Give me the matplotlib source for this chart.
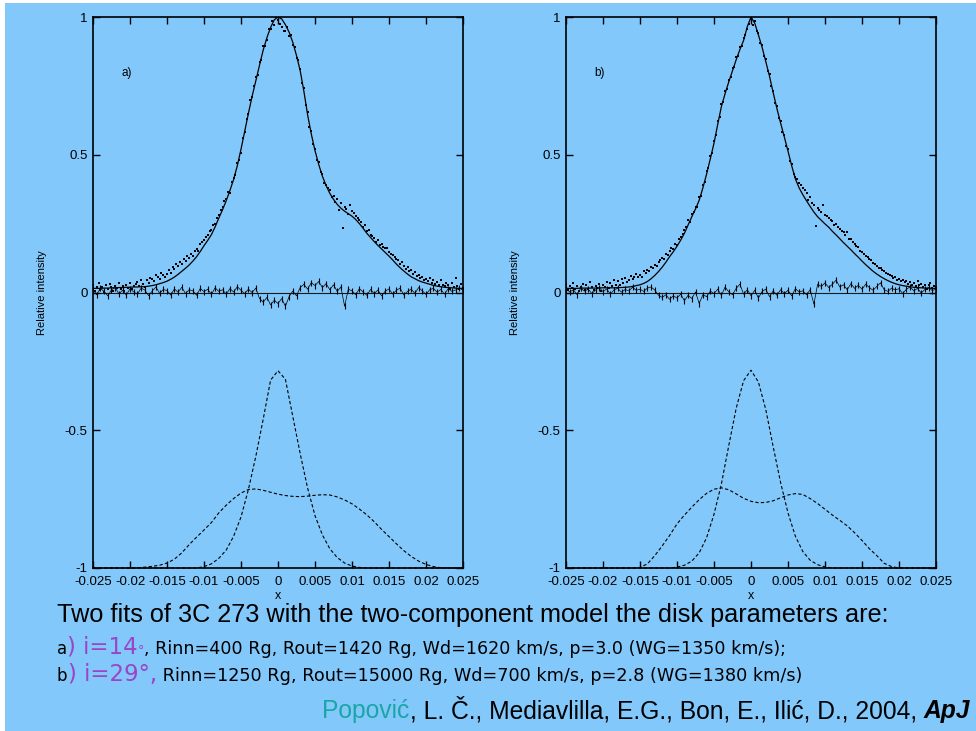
import numpy as np
import matplotlib
matplotlib.use('Agg')
import matplotlib.pyplot as plt
from matplotlib.patches import Rectangle

# wavelength grids (relative shift x)
x_obs = np.linspace(-0.025, 0.025, 201)   # observed points, step 0.00025
x_fit = np.linspace(-0.025, 0.025, 101)   # fit and residuals, step 0.0005
x_comp = np.linspace(-0.025, 0.025, 51)   # components, step 0.001

# panel a) - total fit
fit_a = [0.015, 0.015, 0.015, 0.016, 0.016, 0.017, 0.017, 0.018, 0.018, 0.019,
         0.019, 0.020, 0.020, 0.021, 0.021, 0.023, 0.025, 0.028, 0.032, 0.036,
         0.041, 0.048, 0.056, 0.066, 0.077, 0.088, 0.100, 0.114, 0.130, 0.149,
         0.170, 0.189, 0.210, 0.238, 0.270, 0.300, 0.333, 0.370, 0.410, 0.460,
         0.520, 0.585, 0.650, 0.712, 0.768, 0.825, 0.880, 0.925, 0.962, 0.990,
         1.000, 0.993, 0.972, 0.945, 0.908, 0.860, 0.805, 0.730, 0.645, 0.575,
         0.515, 0.465, 0.422, 0.388, 0.360, 0.338, 0.320, 0.306, 0.295, 0.286,
         0.277, 0.265, 0.250, 0.233, 0.215, 0.200, 0.185, 0.171, 0.158, 0.145,
         0.132, 0.118, 0.103, 0.090, 0.078, 0.067, 0.057, 0.050, 0.043, 0.038,
         0.034, 0.030, 0.026, 0.023, 0.021, 0.019, 0.018, 0.017, 0.016, 0.015,
         0.015]

# panel a) - observed profile
obs_a = [0.028, 0.004, 0.021, 0.033, 0.010, 0.019, 0.002, 0.026,
         0.012, 0.030, 0.020, 0.006, 0.024, 0.015, 0.034, 0.011,
         0.022, 0.005, 0.027, 0.018, 0.036, 0.013, 0.024, 0.031,
         0.038, 0.025, 0.044, 0.030, 0.021, 0.047, 0.036, 0.052,
         0.050, 0.041, 0.062, 0.055, 0.048, 0.070, 0.064, 0.058,
         0.066, 0.080, 0.072, 0.091, 0.084, 0.103, 0.096, 0.112,
         0.105, 0.120, 0.113, 0.131, 0.124, 0.140, 0.132, 0.150,
         0.158, 0.152, 0.175, 0.183, 0.192, 0.201, 0.210, 0.222,
         0.228, 0.246, 0.250, 0.272, 0.281, 0.300, 0.309, 0.331,
         0.340, 0.365, 0.362, 0.402, 0.415, 0.428, 0.470, 0.481,
         0.508, 0.560, 0.583, 0.630, 0.648, 0.697, 0.709, 0.751,
         0.782, 0.790, 0.838, 0.845, 0.893, 0.896, 0.918, 0.955,
         0.958, 0.985, 0.972, 1.000, 0.988, 0.975, 0.962, 0.950,
         0.948, 0.964, 0.931, 0.936, 0.897, 0.892, 0.851, 0.845,
         0.812, 0.760, 0.741, 0.679, 0.655, 0.602, 0.588, 0.538,
         0.522, 0.481, 0.474, 0.438, 0.430, 0.398, 0.392, 0.381,
         0.372, 0.345, 0.352, 0.330, 0.338, 0.298, 0.325, 0.233,
         0.310, 0.302, 0.284, 0.318, 0.296, 0.288, 0.279, 0.270,
         0.262, 0.255, 0.238, 0.246, 0.222, 0.226, 0.210, 0.205,
         0.198, 0.184, 0.190, 0.172, 0.175, 0.166, 0.160, 0.162,
         0.148, 0.139, 0.136, 0.128, 0.121, 0.117, 0.103, 0.109,
         0.098, 0.086, 0.092, 0.078, 0.083, 0.066, 0.074, 0.061,
         0.065, 0.052, 0.058, 0.045, 0.049, 0.040, 0.054, 0.036,
         0.044, 0.031, 0.038, 0.026, 0.047, 0.029, 0.022, 0.035,
         0.027, 0.014, 0.033, 0.020, 0.052, 0.024, 0.011, 0.030,
         0.018]

# panel a) - residuals (observed - fit)
res_a = [0.012, -0.008, 0.015, 0.004, -0.012, 0.010, 0.018, -0.005, 0.008, -0.010,
         0.014, 0.002, -0.006, 0.016, 0.009, -0.011, 0.005, 0.020, -0.003, 0.011,
         0.007, -0.009, 0.013, 0.001, 0.019, -0.004, 0.010, 0.006, -0.010, 0.015,
         0.003, 0.012, -0.007, 0.017, 0.004, 0.010, -0.006, 0.014, 0.002, 0.021,
         0.008, -0.004, 0.012, 0.000, 0.016, -0.022, -0.035, -0.018, -0.045, -0.028,
         -0.040, -0.022, -0.050, -0.015, 0.005, -0.012, 0.018, 0.030, 0.012, 0.036,
         0.025, 0.040, 0.018, 0.032, 0.010, 0.028, 0.004, 0.020, -0.050, 0.012,
         0.006, -0.008, 0.014, 0.002, -0.010, 0.011, -0.004, 0.009, -0.012, 0.005,
         0.013, -0.006, 0.008, 0.016, -0.009, 0.004, 0.012, -0.003, 0.018, 0.006,
         -0.007, 0.010, 0.015, 0.001, 0.011, -0.006, 0.014, 0.004, 0.009, 0.016,
         0.008]

# panel a) - components, shifted down by 1
narrow_a = [-1.0, -1.0, -1.0, -1.0, -1.0, -1.0, -1.0, -1.0, -1.0, -1.0,
            -1.0, -1.0, -1.0, -1.0, -1.0, -0.995, -0.985, -0.965, -0.935, -0.885,
            -0.815, -0.715, -0.595, -0.46, -0.318, -0.284, -0.315, -0.45, -0.585, -0.71,
            -0.81, -0.88, -0.93, -0.962, -0.982, -0.993, -0.998, -1.0, -1.0, -1.0,
            -1.0, -1.0, -1.0, -1.0, -1.0, -1.0, -1.0, -1.0, -1.0, -1.0,
            -1.0]
broad_a = [-1.0, -1.0, -1.0, -1.0, -1.0, -1.0, -0.999, -0.997, -0.994, -0.99,
           -0.982, -0.968, -0.945, -0.915, -0.888, -0.862, -0.835, -0.80, -0.772, -0.748,
           -0.728, -0.715, -0.713, -0.718, -0.725, -0.732, -0.737, -0.74, -0.741, -0.739,
           -0.736, -0.734, -0.735, -0.742, -0.753, -0.767, -0.786, -0.807, -0.832, -0.86,
           -0.886, -0.912, -0.937, -0.958, -0.975, -0.987, -0.995, -0.999, -1.0, -1.0,
           -1.0]

# panel b) - total fit
fit_b = [0.015, 0.015, 0.015, 0.015, 0.016, 0.016, 0.016, 0.016, 0.016, 0.017,
         0.017, 0.017, 0.017, 0.017, 0.018, 0.018, 0.019, 0.020, 0.022, 0.025,
         0.028, 0.033, 0.040, 0.050, 0.062, 0.076, 0.092, 0.110, 0.130, 0.148,
         0.168, 0.190, 0.215, 0.245, 0.275, 0.303, 0.335, 0.380, 0.430, 0.485,
         0.542, 0.610, 0.675, 0.722, 0.765, 0.805, 0.845, 0.882, 0.915, 0.965,
         1.000, 0.978, 0.935, 0.890, 0.838, 0.785, 0.725, 0.668, 0.615, 0.565,
         0.513, 0.460, 0.412, 0.380, 0.355, 0.333, 0.312, 0.292, 0.275, 0.262,
         0.249, 0.237, 0.222, 0.209, 0.195, 0.181, 0.168, 0.155, 0.141, 0.128,
         0.114, 0.101, 0.089, 0.077, 0.067, 0.058, 0.050, 0.043, 0.037, 0.032,
         0.028, 0.025, 0.023, 0.021, 0.019, 0.018, 0.017, 0.016, 0.016, 0.015,
         0.015]

# panel b) - observed profile
obs_b = [0.030, 0.008, 0.024, 0.017, 0.035, 0.012, 0.022, 0.005,
         0.019, 0.032, 0.010, 0.026, 0.014, 0.037, 0.020, 0.009,
         0.025, 0.016, 0.031, 0.006, 0.028, 0.021, 0.039, 0.018,
         0.033, 0.024, 0.045, 0.029, 0.040, 0.027, 0.048, 0.036,
         0.051, 0.039, 0.046, 0.060, 0.049, 0.057, 0.068, 0.055,
         0.064, 0.058, 0.077, 0.070, 0.082, 0.079, 0.093, 0.088,
         0.101, 0.096, 0.112, 0.118, 0.124, 0.120, 0.139, 0.135,
         0.150, 0.162, 0.158, 0.176, 0.172, 0.195, 0.203, 0.214,
         0.226, 0.238, 0.262, 0.257, 0.284, 0.293, 0.310, 0.312,
         0.348, 0.352, 0.392, 0.400, 0.441, 0.452, 0.496, 0.508,
         0.550, 0.570, 0.621, 0.636, 0.684, 0.692, 0.730, 0.738,
         0.772, 0.781, 0.815, 0.820, 0.856, 0.858, 0.890, 0.893,
         0.925, 0.934, 0.958, 0.975, 0.992, 0.970, 0.984, 0.948,
         0.942, 0.905, 0.899, 0.858, 0.846, 0.803, 0.792, 0.748,
         0.733, 0.688, 0.676, 0.633, 0.622, 0.583, 0.572, 0.531,
         0.520, 0.479, 0.468, 0.430, 0.420, 0.412, 0.398, 0.391,
         0.378, 0.372, 0.360, 0.335, 0.345, 0.326, 0.318, 0.240,
         0.305, 0.298, 0.294, 0.318, 0.281, 0.276, 0.270, 0.262,
         0.258, 0.246, 0.250, 0.236, 0.229, 0.224, 0.221, 0.208,
         0.221, 0.195, 0.193, 0.184, 0.176, 0.170, 0.165, 0.152,
         0.148, 0.140, 0.133, 0.128, 0.120, 0.117, 0.106, 0.104,
         0.098, 0.090, 0.089, 0.080, 0.077, 0.072, 0.068, 0.062,
         0.061, 0.052, 0.056, 0.046, 0.050, 0.041, 0.047, 0.037,
         0.043, 0.030, 0.039, 0.028, 0.034, 0.024, 0.041, 0.026,
         0.031, 0.019, 0.028, 0.012, 0.026, 0.033, 0.018, 0.024,
         0.020]

# panel b) - residuals
res_b = [0.014, 0.002, 0.010, -0.008, 0.016, 0.005, 0.012, -0.004, 0.009, 0.018,
         0.003, 0.013, -0.006, 0.010, 0.015, 0.001, 0.011, 0.006, 0.019, 0.008,
         0.012, 0.004, 0.016, 0.020, 0.009, -0.010, -0.018, -0.008, -0.025, -0.012,
         -0.020, -0.006, -0.030, -0.010, -0.022, 0.002, -0.040, -0.008, -0.015, 0.005,
         -0.004, 0.012, -0.010, 0.020, 0.002, -0.008, 0.015, 0.030, -0.006, 0.010,
         -0.012, 0.008, -0.020, 0.004, 0.012, -0.015, 0.006, -0.010, 0.010, -0.004,
         0.008, -0.012, 0.014, 0.002, 0.006, -0.008, 0.010, -0.042, 0.030, 0.022,
         0.035, 0.018, 0.030, 0.045, 0.020, 0.028, 0.010, 0.032, 0.015, 0.026,
         0.012, 0.030, 0.018, 0.008, 0.022, 0.035, 0.010, 0.004, 0.016, 0.009,
         0.014, -0.004, 0.012, 0.020, 0.006, 0.015, -0.002, 0.011, 0.018, 0.007,
         0.012]

# panel b) - components
narrow_b = [-1.0, -1.0, -1.0, -1.0, -1.0, -1.0, -1.0, -1.0, -1.0, -1.0,
            -1.0, -1.0, -1.0, -1.0, -1.0, -0.997, -0.99, -0.975, -0.945, -0.89,
            -0.805, -0.695, -0.555, -0.42, -0.32, -0.282, -0.325, -0.425, -0.56, -0.69,
            -0.80, -0.885, -0.94, -0.972, -0.988, -0.996, -1.0, -1.0, -1.0, -1.0,
            -1.0, -1.0, -1.0, -1.0, -1.0, -1.0, -1.0, -1.0, -1.0, -1.0,
            -1.0]
broad_b = [-1.0, -1.0, -1.0, -1.0, -1.0, -1.0, -1.0, -1.0, -1.0, -1.0,
           -0.998, -0.985, -0.955, -0.92, -0.882, -0.84, -0.808, -0.779, -0.752, -0.729,
           -0.714, -0.709, -0.716, -0.731, -0.747, -0.758, -0.763, -0.762, -0.756, -0.745,
           -0.735, -0.73, -0.733, -0.748, -0.766, -0.787, -0.808, -0.827, -0.847, -0.872,
           -0.90, -0.93, -0.955, -0.983, -0.995, -1.0, -1.0, -1.0, -1.0, -1.0,
           -1.0]

xticks = [-0.025, -0.02, -0.015, -0.01, -0.005, 0, 0.005, 0.01, 0.015, 0.02, 0.025]
xtick_labels = ['-0.025', '-0.02', '-0.015', '-0.01', '-0.005', '0',
                '0.005', '0.01', '0.015', '0.02', '0.025']
yticks = [-1, -0.5, 0, 0.5, 1]
ytick_labels = ['-1', '-0.5', '0', '0.5', '1']

BG = '#82c8fb'
PURPLE = '#9a44c8'
TEAL = '#1aa6a6'
W, H = 976, 731

plt.rcParams['font.family'] = ['Liberation Sans', 'DejaVu Sans']

fig = plt.figure(figsize=(W / 100, H / 100), dpi=100, facecolor='white')
fig.patches.append(Rectangle((5 / W, 0), 1 - 5 / W, 1 - 3 / H, transform=fig.transFigure,
                             facecolor=BG, edgecolor='none', zorder=-10))


def draw_panel(left, fit, obs, res, narrow, broad, tag):
    ax = fig.add_axes([left / W, 1 - 568 / H, 370 / W, 551 / H])
    ax.set_facecolor('none')
    ax.axhline(0, color='#1a1a1a', lw=0.8, zorder=1)
    ax.plot(x_fit, res, '-', color='k', lw=0.5)
    ax.plot(x_fit, res, '|', color='k', ms=4.5, mew=0.8)
    ax.plot(x_obs, obs, 's', color='k', ms=2.0, mew=0)
    ax.plot(x_fit, fit, '-', color='k', lw=0.9)
    ax.plot(x_comp, narrow, '--', color='k', lw=0.8, dashes=(3, 2), clip_on=False)
    ax.plot(x_comp, broad, '--', color='k', lw=0.8, dashes=(3, 2), clip_on=False)
    ax.set_xlim(-0.025, 0.025)
    ax.set_ylim(-1, 1)
    ax.set_xticks(xticks)
    ax.set_xticklabels(xtick_labels)
    ax.set_yticks(yticks)
    ax.set_yticklabels(ytick_labels)
    ax.tick_params(direction='in', top=True, right=True, length=5, width=1,
                   labelsize=9.5, colors='k')
    ax.tick_params(axis='x', pad=6)
    ax.tick_params(axis='y', pad=4)
    for s in ax.spines.values():
        s.set_linewidth(1.2)
    ax.set_xlabel('x', fontsize=9, labelpad=1)
    ax.set_ylabel('Relative intensity', fontsize=8)
    ax.yaxis.set_label_coords(-0.125, 0.5)
    ax.text(0.076, 0.898, tag, transform=ax.transAxes, fontsize=8.5, va='center')
    return ax


draw_panel(93, fit_a, obs_a, res_a, narrow_a, broad_a, 'a)')
draw_panel(566, fit_b, obs_b, res_b, narrow_b, broad_b, 'b)')

renderer = fig.canvas.get_renderer()


def put_line(x0, y_top, pieces, align='left'):
    # pieces: (text, fontsize, color, family, weight, style)
    y = 1 - y_top / H
    made = []
    for s, size, color, fam, weight, style in pieces:
        t = fig.text(0, y, s, fontsize=size, color=color, family=fam,
                     weight=weight, style=style, va='baseline', ha='left')
        made.append(t)
    widths = [t.get_window_extent(renderer).width for t in made]
    if align == 'right':
        x0 = x0 - sum(widths)
    x = x0
    for t, w in zip(made, widths):
        t.set_x(x / W)
        x += w


SANS = ['Liberation Sans', 'DejaVu Sans']
VERD = ['DejaVu Sans']

put_line(57, 622, [('Two fits of 3C 273 with the two-component model the disk parameters are:',
                    18.2, 'k', SANS, 'normal', 'normal')])
put_line(57, 654, [('a', 12, 'k', VERD, 'normal', 'normal'),
                   (') i=14', 16.5, PURPLE, VERD, 'normal', 'normal'),
                   ('°', 9, PURPLE, VERD, 'normal', 'normal'),
                   (', Rinn=400 Rg, Rout=1420 Rg, Wd=1620 km/s, p=3.0 (WG=1350 km/s);',
                    12.6, 'k', VERD, 'normal', 'normal')])
put_line(57, 681, [('b', 12, 'k', VERD, 'normal', 'normal'),
                   (') i=29°,', 16.5, PURPLE, VERD, 'normal', 'normal'),
                   (' Rinn=1250 Rg, Rout=15000 Rg, Wd=700 km/s, p=2.8 (WG=1380 km/s)',
                    12.7, 'k', VERD, 'normal', 'normal')])
put_line(970, 718, [('Popović', 17.7, TEAL, SANS, 'normal', 'normal'),
                    (', L. Č., Mediavlilla, E.G., Bon, E., Ilić, D., 2004, ', 17.7, 'k',
                     SANS, 'normal', 'normal'),
                    ('ApJ', 17.7, 'k', SANS, 'bold', 'italic')], align='right')

fig.savefig('out.png', dpi=100, facecolor=fig.get_facecolor())
